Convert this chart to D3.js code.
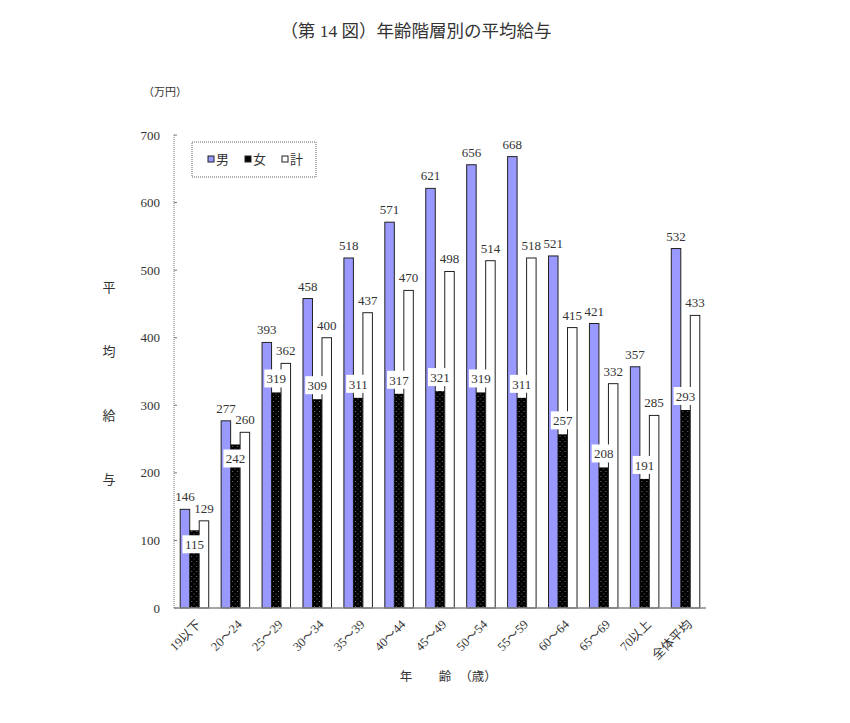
<!DOCTYPE html>
<html>
<head>
<meta charset="utf-8">
<script src="https://cdn.jsdelivr.net/npm/d3@7"></script>
<style>
  body { margin: 0; background: #fff; }
  text { font-family: "Liberation Serif", "Noto Sans CJK JP", serif; fill: #333; }
</style>
</head>
<body>
<div id="chart"></div>
<script>
// age groups and average pay (万円)
var categories = ["19以下", "20～24", "25～29", "30～34", "35～39", "40～44", "45～49",
                  "50～54", "55～59", "60～64", "65～69", "70以上", "全体平均"];
var seriesNames = ["男", "女", "計"];
var maleValues   = [146, 277, 393, 458, 518, 571, 621, 656, 668, 521, 421, 357, 532];
var femaleValues = [115, 242, 319, 309, 311, 317, 321, 319, 311, 257, 208, 191, 293];
var totalValues  = [129, 260, 362, 400, 437, 470, 498, 514, 518, 415, 332, 285, 433];
var yTicks = [0, 100, 200, 300, 400, 500, 600, 700];

var width = 850, height = 723;
var plotLeft = 174, plotRight = 706, plotTop = 135, plotBottom = 608;

var svg = d3.select("#chart").append("svg")
    .attr("width", width)
    .attr("height", height);

// dotted fill for the female bars
var pat = svg.append("defs").append("pattern")
    .attr("id", "dots")
    .attr("patternUnits", "userSpaceOnUse")
    .attr("width", 5).attr("height", 5);
pat.append("rect").attr("width", 5).attr("height", 5).attr("fill", "#000");
pat.append("rect").attr("x", 1).attr("y", 1).attr("width", 1).attr("height", 1).attr("fill", "#777");
pat.append("rect").attr("x", 3.5).attr("y", 3.5).attr("width", 1).attr("height", 1).attr("fill", "#666");

var x = d3.scaleBand().domain(categories).range([plotLeft, plotRight]);
var groupWidth = 28.5;
var xs = d3.scaleBand().domain(seriesNames).range([0, groupWidth]);
var y = d3.scaleLinear().domain([0, 700]).range([plotBottom, plotTop]);

var fills = { "男": "#9999FF", "女": "url(#dots)", "計": "#fff" };

// title
svg.append("text")
    .attr("x", 416).attr("y", 37)
    .attr("text-anchor", "middle")
    .style("font-size", "17.5px")
    .text("（第 14 図）年齢階層別の平均給与");

// unit
svg.append("text")
    .attr("x", 165).attr("y", 96)
    .attr("text-anchor", "middle")
    .style("font-size", "11px")
    .text("（万円）");

// y axis title, one char per line
["平", "均", "給", "与"].forEach(function(c, i) {
    svg.append("text")
        .attr("x", 109).attr("y", 292 + i * 64)
        .attr("text-anchor", "middle")
        .style("font-size", "13px")
        .text(c);
});

// y axis
var yAxis = svg.append("g");
yAxis.append("line")
    .attr("x1", plotLeft).attr("x2", plotLeft)
    .attr("y1", y(700)).attr("y2", y(0))
    .attr("stroke", "#777").attr("stroke-dasharray", "1,1");
yAxis.selectAll(".tick").data(yTicks).enter().append("line")
    .attr("x1", plotLeft).attr("x2", plotLeft + 3)
    .attr("y1", function(d) { return y(d); })
    .attr("y2", function(d) { return y(d); })
    .attr("stroke", "#777");
yAxis.selectAll(".lbl").data(yTicks).enter().append("text")
    .attr("x", 160)
    .attr("y", function(d) { return y(d); })
    .attr("dy", "0.35em")
    .attr("text-anchor", "end")
    .style("font-size", "13px")
    .text(function(d) { return d; });

// bars
var data = categories.map(function(c, i) {
    return { cat: c, vals: [maleValues[i], femaleValues[i], totalValues[i]] };
});

var groups = svg.selectAll(".grp").data(data).enter().append("g")
    .attr("transform", function(d) {
        return "translate(" + (x(d.cat) + (x.bandwidth() - groupWidth) / 2) + ",0)";
    });

groups.selectAll("rect").data(function(d) {
    return d.vals.map(function(v, j) { return { s: seriesNames[j], v: v }; });
}).enter().append("rect")
    .attr("x", function(d) { return xs(d.s); })
    .attr("width", xs.bandwidth())
    .attr("y", function(d) { return y(d.v); })
    .attr("height", function(d) { return y(0) - y(d.v); })
    .attr("fill", function(d) { return fills[d.s]; })
    .attr("stroke", function(d) { return d.s === "女" ? "none" : "#222"; })
    .attr("stroke-width", 1);

// x axis line
svg.append("line")
    .attr("x1", plotLeft).attr("x2", plotRight)
    .attr("y1", plotBottom).attr("y2", plotBottom)
    .attr("stroke", "#888").attr("stroke-width", 1.5);

// male and total labels
groups.each(function(d) {
    var g = d3.select(this);
    [0, 2].forEach(function(j) {
        g.append("text")
            .attr("x", xs(seriesNames[j]) + xs.bandwidth() / 2)
            .attr("y", y(d.vals[j]) - 8)
            .attr("text-anchor", "middle")
            .style("font-size", "13px")
            .text(d.vals[j]);
    });
    // female label in a white box, inside the bar when the total bar is close
    var fv = d.vals[1], tv = d.vals[2];
    var cx = xs("女") + xs.bandwidth() / 2;
    var boxTop = (tv - fv < 30) ? y(fv) + 5 : y(fv) - 5 - 18;
    g.append("rect")
        .attr("x", cx - 12).attr("y", boxTop)
        .attr("width", 24).attr("height", 18)
        .attr("fill", "#fff");
    g.append("text")
        .attr("x", cx)
        .attr("y", boxTop + 14)
        .attr("text-anchor", "middle")
        .style("font-size", "13px")
        .text(fv);
});

// x tick labels
svg.selectAll(".xl").data(categories).enter().append("text")
    .attr("transform", function(d) {
        return "translate(" + (x(d) + x.bandwidth() / 2 + 1) + "," + (plotBottom + 11) + ") rotate(-45)";
    })
    .attr("text-anchor", "end")
    .attr("dy", "0.7em")
    .style("font-size", "12.5px")
    .text(function(d) { return d; });

// x axis title
svg.append("text")
    .attr("x", 406).attr("y", 681)
    .attr("text-anchor", "middle")
    .style("font-size", "12.5px")
    .text("年");
svg.append("text")
    .attr("x", 445).attr("y", 681)
    .attr("text-anchor", "middle")
    .style("font-size", "12.5px")
    .text("齢");
svg.append("text")
    .attr("x", 478).attr("y", 681)
    .attr("text-anchor", "middle")
    .style("font-size", "12.5px")
    .text("（歳）");

// legend
var legend = svg.append("g");
legend.append("rect")
    .attr("x", 192).attr("y", 142)
    .attr("width", 124).attr("height", 35)
    .attr("fill", "none")
    .attr("stroke", "#666").attr("stroke-dasharray", "1,1");
var legendX = [208, 245, 282];
var legendFills = ["#9999FF", "#000", "#fff"];
seriesNames.forEach(function(s, i) {
    legend.append("rect")
        .attr("x", legendX[i]).attr("y", 156)
        .attr("width", 6).attr("height", 6)
        .attr("fill", legendFills[i])
        .attr("stroke", "#222");
    legend.append("text")
        .attr("x", legendX[i] + 8).attr("y", 164)
        .style("font-size", "13px")
        .text(s);
});
</script>
</body>
</html>
